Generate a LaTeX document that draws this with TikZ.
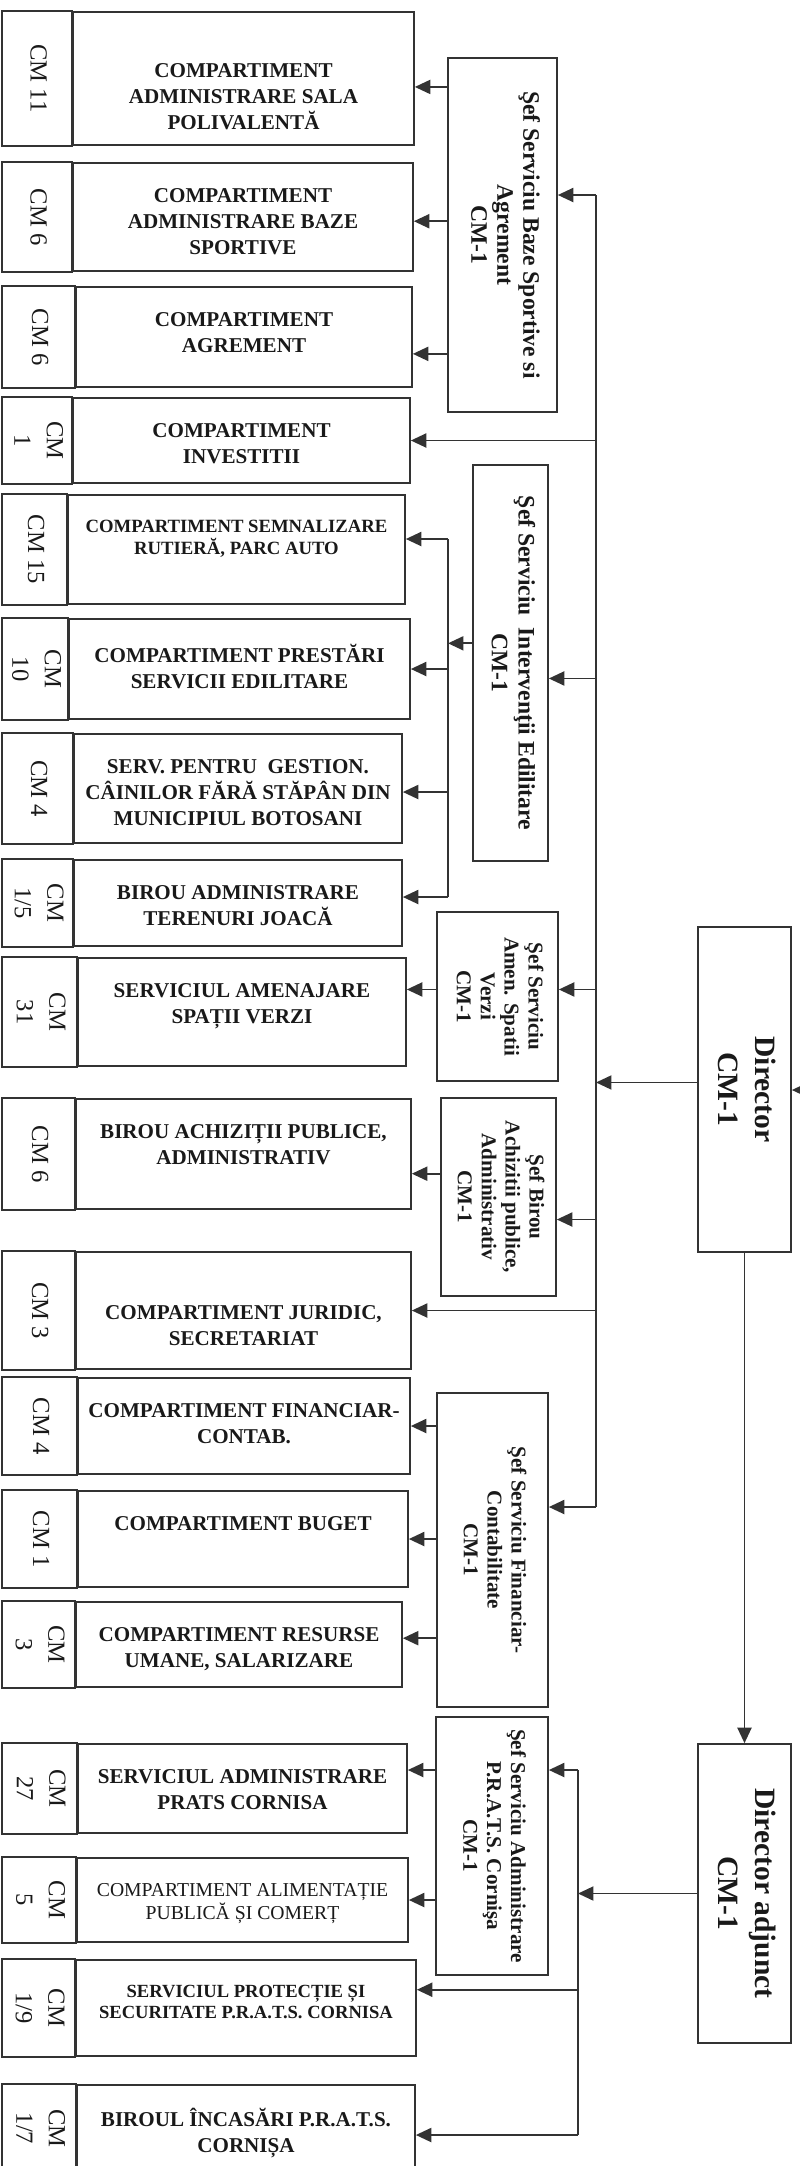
\documentclass[tikz,border=0pt]{standalone}
\usepackage{fontspec}
\setmainfont{Liberation Serif}
\usepackage{graphicx}
\usetikzlibrary{arrows.meta,fit,positioning}

\newcommand{\vtxt}[1]{\rotatebox{-90}{\begin{tabular}{@{}c@{}}#1\end{tabular}}}

\begin{document}
\begin{tikzpicture}[x=0.025cm, y=-0.025cm, node distance=18.5pt,
    box/.style={draw=black!80, line width=1.2pt, inner sep=0pt},
    intext/.style={inner sep=0pt, align=center, text=black!90, font=\bfseries\fontsize{15}{18.5}\selectfont},
    cmcell/.style={box, text=black!90, font=\fontsize{17.5}{23}\selectfont},
    sefbox/.style={box, text=black!90, font=\bfseries\fontsize{15}{17}\selectfont},
    dirbox/.style={box, text=black!90, font=\bfseries\fontsize{21}{26}\selectfont},
    wire/.style={draw=black!80, line width=1.3pt},
    arr/.style={wire, -{Triangle[length=11pt,width=10pt]}},
  ]
  \useasboundingbox (0,0) rectangle (800,2166);
  \coordinate (lm) at (2,0);

  % compartimente
  \node[box, fit={(73,12) (414,145)}] (sala) {};
  \node[intext, below=37pt of sala.north] (sala-t) {COMPARTIMENT\\ADMINISTRARE SALA\\POLIVALENTĂ};
  \node[cmcell, fit={(sala.north west -| lm) (sala.south west)}] (sala-cm) {\vtxt{CM 11}};

  \node[box, fit={(73,163) (413,271)}] (baze) {};
  \node[intext, below=of baze.north] (baze-t) {COMPARTIMENT\\ADMINISTRARE BAZE\\SPORTIVE};
  \node[cmcell, fit={(baze.north west -| lm) (baze.south west)}] (baze-cm) {\vtxt{CM 6}};

  \node[box, fit={(76,287) (412,387)}] (agrement) {};
  \node[intext, below=of agrement.north] (agrement-t) {COMPARTIMENT\\AGREMENT};
  \node[cmcell, fit={(agrement.north west -| lm) (agrement.south west)}] (agrement-cm) {\vtxt{CM 6}};

  \node[box, fit={(73,398) (410,483)}] (investitii) {};
  \node[intext, below=of investitii.north] (investitii-t) {COMPARTIMENT\\INVESTITII};
  \node[cmcell, fit={(investitii.north west -| lm) (investitii.south west)}] (investitii-cm) {\vtxt{CM\\1}};

  \node[box, fit={(68,495) (405,604)}] (semnal) {};
  \node[intext, below=of semnal.north, font=\bfseries\fontsize{13.3}{15.6}\selectfont] (semnal-t) {COMPARTIMENT SEMNALIZARE\\RUTIERĂ, PARC AUTO};
  \node[cmcell, fit={(semnal.north west -| lm) (semnal.south west)}] (semnal-cm) {\vtxt{CM 15}};

  \node[box, fit={(69,619) (410,719)}] (prestari) {};
  \node[intext, below=of prestari.north] (prestari-t) {COMPARTIMENT PRESTĂRI\\SERVICII EDILITARE};
  \node[cmcell, fit={(prestari.north west -| lm) (prestari.south west)}] (prestari-cm) {\vtxt{CM\\10}};

  \node[box, fit={(74,734) (402,843)}] (caini) {};
  \node[intext, below=of caini.north] (caini-t) {SERV. PENTRU\ \ GESTION.\\CÂINILOR FĂRĂ STĂPÂN DIN\\MUNICIPIUL BOTOSANI};
  \node[cmcell, fit={(caini.north west -| lm) (caini.south west)}] (caini-cm) {\vtxt{CM 4}};

  \node[box, fit={(74,860) (402,946)}] (terenuri) {};
  \node[intext, below=of terenuri.north] (terenuri-t) {BIROU ADMINISTRARE\\TERENURI JOACĂ};
  \node[cmcell, fit={(terenuri.north west -| lm) (terenuri.south west)}] (terenuri-cm) {\vtxt{CM\\1/5}};

  \node[box, fit={(78,958) (406,1066)}] (amenajare) {};
  \node[intext, below=of amenajare.north] (amenajare-t) {SERVICIUL AMENAJARE\\SPAȚII VERZI};
  \node[cmcell, fit={(amenajare.north west -| lm) (amenajare.south west)}] (amenajare-cm) {\vtxt{CM\\31}};

  \node[box, fit={(76,1099) (411,1209)}] (achizitii) {};
  \node[intext, below=of achizitii.north] (achizitii-t) {BIROU ACHIZIȚII PUBLICE,\\ADMINISTRATIV};
  \node[cmcell, fit={(achizitii.north west -| lm) (achizitii.south west)}] (achizitii-cm) {\vtxt{CM 6}};

  \node[box, fit={(76,1252) (411,1369)}] (juridic) {};
  \node[intext, below=38.5pt of juridic.north] (juridic-t) {COMPARTIMENT JURIDIC,\\SECRETARIAT};
  \node[cmcell, fit={(juridic.north west -| lm) (juridic.south west)}] (juridic-cm) {\vtxt{CM 3}};

  \node[box, fit={(78,1378) (410,1474)}] (financiar) {};
  \node[intext, below=of financiar.north] (financiar-t) {COMPARTIMENT FINANCIAR-\\CONTAB.};
  \node[cmcell, fit={(financiar.north west -| lm) (financiar.south west)}] (financiar-cm) {\vtxt{CM 4}};

  \node[box, fit={(78,1491) (408,1587)}] (buget) {};
  \node[intext, below=of buget.north] (buget-t) {COMPARTIMENT BUGET};
  \node[cmcell, fit={(buget.north west -| lm) (buget.south west)}] (buget-cm) {\vtxt{CM 1}};

  \node[box, fit={(76,1602) (402,1687)}] (resurse) {};
  \node[intext, below=of resurse.north] (resurse-t) {COMPARTIMENT RESURSE\\UMANE, SALARIZARE};
  \node[cmcell, fit={(resurse.north west -| lm) (resurse.south west)}] (resurse-cm) {\vtxt{CM\\3}};

  \node[box, fit={(78,1744) (407,1833)}] (cornisa) {};
  \node[intext, below=of cornisa.north] (cornisa-t) {SERVICIUL ADMINISTRARE\\PRATS CORNISA};
  \node[cmcell, fit={(cornisa.north west -| lm) (cornisa.south west)}] (cornisa-cm) {\vtxt{CM\\27}};

  \node[box, fit={(77,1858) (408,1942)}] (alimentatie) {};
  \node[intext, below=of alimentatie.north, font=\fontsize{14}{16}\selectfont] (alimentatie-t) {COMPARTIMENT ALIMENTAȚIE\\PUBLICĂ ȘI COMERȚ};
  \node[cmcell, fit={(alimentatie.north west -| lm) (alimentatie.south west)}] (alimentatie-cm) {\vtxt{CM\\5}};

  \node[box, fit={(76,1960) (416,2056)}] (protectie) {};
  \node[intext, below=of protectie.north, font=\bfseries\fontsize{13.2}{14.5}\selectfont] (protectie-t) {SERVICIUL PROTECȚIE ȘI\\SECURITATE P.R.A.T.S. CORNISA};
  \node[cmcell, fit={(protectie.north west -| lm) (protectie.south west)}] (protectie-cm) {\vtxt{CM\\1/9}};

  \node[box, fit={(77,2085) (415,2172)}] (incasari) {};
  \node[intext, below=17pt of incasari.north] (incasari-t) {BIROUL ÎNCASĂRI P.R.A.T.S.\\CORNIȘA};
  \node[cmcell, fit={(incasari.north west -| lm) (incasari.south west)}] (incasari-cm) {\vtxt{CM\\1/7}};

  % sefi
  \node[sefbox, font=\bfseries\fontsize{16.8}{18.5}\selectfont, fit={(448,58) (557,412)}] (sefbaze) {\vtxt{Şef Serviciu Baze Sportive si\\Agrement\\CM-1}};
  \node[sefbox, font=\bfseries\fontsize{16.8}{19}\selectfont, fit={(473,465) (548,861)}] (sefint) {\vtxt{Şef Serviciu\ \ Intervenţii Edilitare\\CM-1}};
  \node[sefbox, fit={(437,912) (558,1081)}] (sefspatii) {\vtxt{Şef Serviciu\\Amen. Spatii\\Verzi\\CM-1}};
  \node[sefbox, fit={(441,1098) (556,1296)}] (sefbirou) {\vtxt{Şef Birou\\Achizitii publice,\\Administrativ\\CM-1}};
  \node[sefbox, fit={(437,1393) (548,1707)}] (seffin) {\vtxt{Şef Serviciu Financiar-\\Contabilitate\\CM-1}};
  \node[sefbox, fit={(436,1717) (548,1975)}] (sefprats) {\vtxt{Şef Serviciu Administrare\\P.R.A.T.S. Cornişa\\CM-1}};

  \node[dirbox, fit={(698,927) (791,1252)}] (director) {\vtxt{Director\\CM-1}};
  \node[dirbox, fit={(698,1744) (791,2043)}] (adjunct) {\vtxt{Director adjunct\\CM-1}};

  % linii
  \coordinate (bustop) at (596,195);
  \coordinate (busbot) at (596,1507);
  \coordinate (ibtop) at (448,539);
  \coordinate (ibbot) at (448,897);
  \coordinate (pbtop) at (578,1770);
  \coordinate (pbbot) at (578,2135);
  \coordinate (rim) at (816,1090);

  \draw[wire] (bustop) -- (busbot);
  \draw[wire] (ibtop) -- (ibbot);
  \draw[wire] (pbtop) -- (pbbot);

  \draw[arr] (rim) -- (rim -| director.east);
  \draw[arr] ([yshift=5pt]director.west) -- ([yshift=5pt]director.west -| bustop);
  \draw[arr] (director.south) -- (adjunct.north);
  \draw[arr] (adjunct.west) -- (adjunct.west -| pbtop);

  \draw[arr] (bustop) -- (bustop -| sefbaze.east);
  \draw[arr] (investitii.east -| bustop) -- (investitii.east);
  \draw[arr] ([yshift=-11pt]sefint.east -| bustop) -- ([yshift=-11pt]sefint.east);
  \draw[arr] ([yshift=5pt]sefspatii.east -| bustop) -- ([yshift=5pt]sefspatii.east);
  \draw[arr] ([yshift=-16pt]sefbirou.east -| bustop) -- ([yshift=-16pt]sefbirou.east);
  \draw[arr] (juridic.east -| bustop) -- (juridic.east);
  \draw[arr] (busbot) -- (busbot -| seffin.east);

  \draw[arr] ([yshift=-6pt]sala.east -| sefbaze.west) -- ([yshift=-6pt]sala.east);
  \draw[arr] ([yshift=-3pt]baze.east -| sefbaze.west) -- ([yshift=-3pt]baze.east);
  \draw[arr] ([yshift=-12pt]agrement.east -| sefbaze.west) -- ([yshift=-12pt]agrement.east);

  \draw[arr] ([yshift=14pt]sefint.west) -- ([yshift=14pt]sefint.west -| ibtop);
  \draw[arr] (ibtop) -- (ibtop -| semnal.east);
  \draw[arr] (prestari.east -| ibtop) -- (prestari.east);
  \draw[arr] ([yshift=-2.5pt]caini.east -| ibtop) -- ([yshift=-2.5pt]caini.east);
  \draw[arr] (ibbot) -- (ibbot -| terenuri.east);

  \draw[arr] ([yshift=5pt]sefspatii.west) -- ([yshift=5pt]sefspatii.west -| amenajare.east);
  \draw[arr] ([yshift=-14pt]achizitii.east -| sefbirou.west) -- ([yshift=-14pt]achizitii.east);
  \draw[arr] (financiar.east -| seffin.west) -- (financiar.east);
  \draw[arr] (buget.east -| seffin.west) -- (buget.east);
  \draw[arr] ([yshift=4.5pt]resurse.east -| seffin.west) -- ([yshift=4.5pt]resurse.east);

  \draw[arr] (pbtop) -- (pbtop -| sefprats.east);
  \draw[arr] (pbtop -| sefprats.west) -- (pbtop -| cornisa.east);
  \draw[arr] (alimentatie.east -| sefprats.west) -- (alimentatie.east);
  \draw[arr] ([yshift=13pt]protectie.east -| pbtop) -- ([yshift=13pt]protectie.east);
  \draw[arr] (pbbot) -- (pbbot -| incasari.east);
\end{tikzpicture}
\end{document}
